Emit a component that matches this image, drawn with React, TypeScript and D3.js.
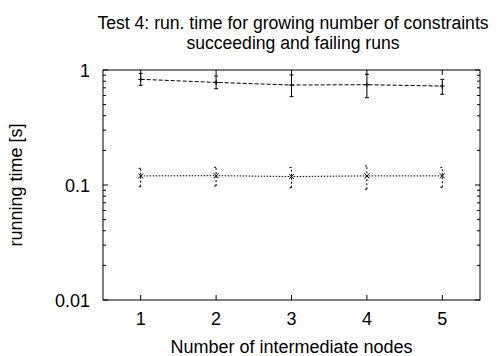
import React from "react";
import * as d3 from "d3";

const nodes = [1, 2, 3, 4, 5];
// succeeding runs (upper curve)
const succMean = [0.83, 0.78, 0.74, 0.745, 0.725];
const succLow = [0.736, 0.687, 0.586, 0.574, 0.615];
const succHigh = [0.935, 0.887, 0.905, 0.918, 0.83];
// failing runs (lower curve)
const failMean = [0.12, 0.1205, 0.1185, 0.12, 0.12];
const failLow = [0.0966, 0.098, 0.0947, 0.0918, 0.0955];
const failHigh = [0.1397, 0.1424, 0.1424, 0.1463, 0.1424];
const yTicks = [0.01, 0.1, 1];
const yTickLabels = ["0.01", "0.1", "1"];

const W = 503;
const H = 356;
const margin = { top: 70, right: 23, bottom: 56, left: 103 };
const font = "'Liberation Sans', Arial, sans-serif";
const fs = 18;

export default function App() {
  const x = d3.scaleLinear().domain([0.5, 5.5]).range([margin.left, W - margin.right]);
  const y = d3.scaleLog().domain([0.01, 1]).range([H - margin.bottom, margin.top]);

  const minor: number[] = [];
  [0.01, 0.1].forEach((d) => {
    for (let k = 2; k <= 9; k++) minor.push(d * k);
  });

  const line = d3
    .line<number>()
    .x((d, i) => x(nodes[i]))
    .y((d) => y(d));

  const series = [
    { mean: succMean, low: succLow, high: succHigh, dash: "4,2", barDash: undefined as string | undefined, mark: "plus" },
    { mean: failMean, low: failLow, high: failHigh, dash: "1.5,1.5", barDash: "2,2", mark: "cross" },
  ];

  const x0 = margin.left;
  const x1 = W - margin.right;
  const y0 = H - margin.bottom;
  const y1 = margin.top;

  return (
    <svg width={W} height={H} style={{ position: "absolute", left: 0, top: 0 }}>
      <rect width={W} height={H} fill="#fff" />
      <text x={293} y={29} textAnchor="middle" fontFamily={font} fontSize={17.6}>
        Test 4: run. time for growing number of constraints
      </text>
      <text x={293} y={48.5} textAnchor="middle" fontFamily={font} fontSize={17.6}>
        succeeding and failing runs
      </text>

      {/* y ticks */}
      {yTicks.map((t, i) => (
        <g key={"y" + t}>
          <line x1={x0} x2={x0 + 5} y1={y(t)} y2={y(t)} stroke="#000" />
          <line x1={x1} x2={x1 - 5} y1={y(t)} y2={y(t)} stroke="#000" />
          <text x={90} y={y(t) + 7} textAnchor="end" fontFamily={font} fontSize={fs}>
            {yTickLabels[i]}
          </text>
        </g>
      ))}
      {minor.map((t) => (
        <g key={"m" + t}>
          <line x1={x0} x2={x0 + 3} y1={y(t)} y2={y(t)} stroke="#000" />
          <line x1={x1} x2={x1 - 3} y1={y(t)} y2={y(t)} stroke="#000" />
        </g>
      ))}
      {/* x ticks */}
      {nodes.map((n) => (
        <g key={"x" + n}>
          <line x1={x(n)} x2={x(n)} y1={y0} y2={y0 - 5} stroke="#000" />
          <line x1={x(n)} x2={x(n)} y1={y1} y2={y1 + 5} stroke="#000" />
          <text x={x(n)} y={325} textAnchor="middle" fontFamily={font} fontSize={fs}>
            {n}
          </text>
        </g>
      ))}

      <rect x={x0} y={y1} width={x1 - x0} height={y0 - y1} fill="none" stroke="#000" />

      {series.map((s, si) => (
        <g key={"s" + si}>
          <path d={line(s.mean) || ""} fill="none" stroke="#000" strokeDasharray={s.dash} />
          {nodes.map((n, i) => {
            const cx = x(n);
            const cy = y(s.mean[i]);
            return (
              <g key={i} stroke="#000">
                <line x1={cx} x2={cx} y1={y(s.low[i])} y2={y(s.high[i])} strokeDasharray={s.barDash} />
                <line x1={cx - 2} x2={cx + 2} y1={y(s.low[i])} y2={y(s.low[i])} strokeDasharray={s.barDash} />
                <line x1={cx - 2} x2={cx + 2} y1={y(s.high[i])} y2={y(s.high[i])} strokeDasharray={s.barDash} />
                {s.mark === "plus" ? (
                  <path d={`M${cx - 2.5},${cy}H${cx + 2.5}M${cx},${cy - 2.5}V${cy + 2.5}`} />
                ) : (
                  <path d={`M${cx - 2.5},${cy - 2.5}L${cx + 2.5},${cy + 2.5}M${cx - 2.5},${cy + 2.5}L${cx + 2.5},${cy - 2.5}`} />
                )}
              </g>
            );
          })}
        </g>
      ))}

      <text
        transform={`translate(22,${(y0 + y1) / 2}) rotate(-90)`}
        textAnchor="middle"
        fontFamily={font}
        fontSize={fs}
      >
        running time [s]
      </text>
      <text x={(x0 + x1) / 2} y={353} textAnchor="middle" fontFamily={font} fontSize={fs}>
        Number of intermediate nodes
      </text>
    </svg>
  );
}
